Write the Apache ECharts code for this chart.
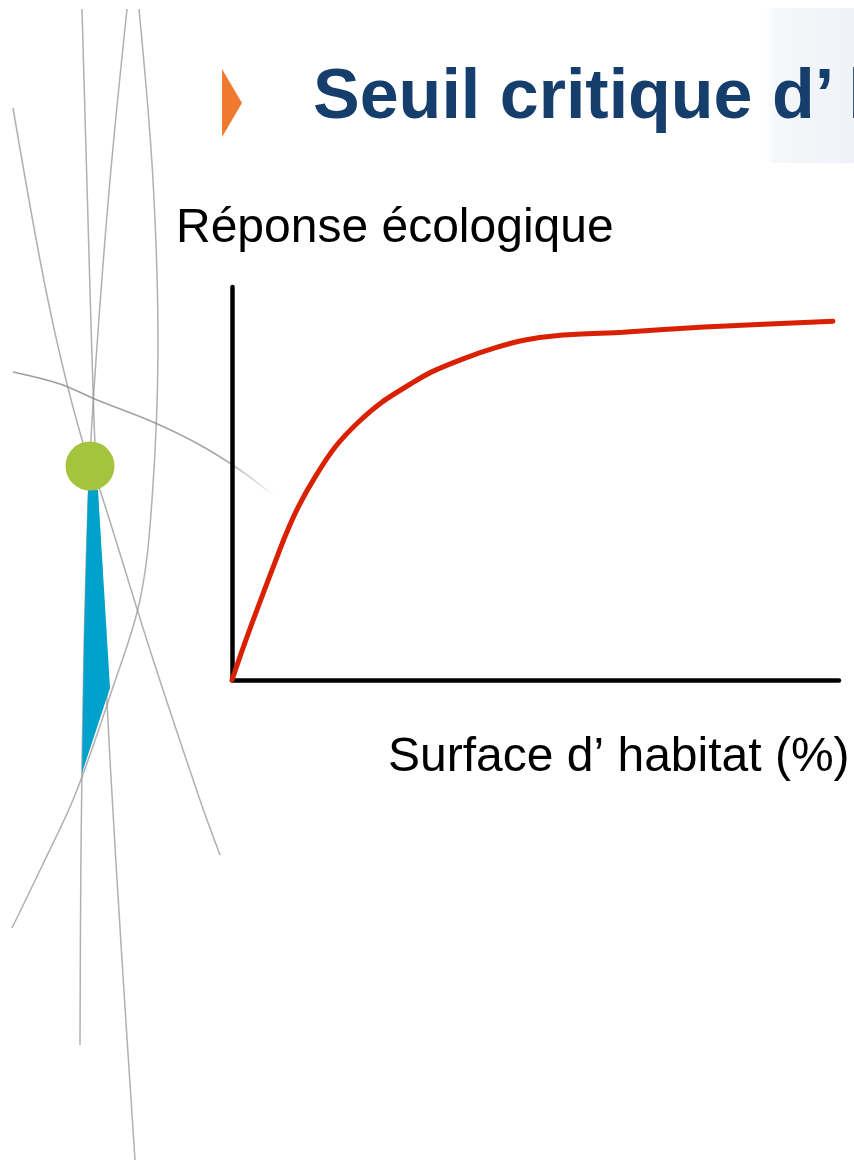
<!DOCTYPE html>
<html>
<head>
<meta charset="utf-8">
<style>
  html, body { margin: 0; padding: 0; background: #ffffff; }
  #chart { width: 854px; height: 1166px; }
</style>
<script src="https://cdn.jsdelivr.net/npm/echarts@6/dist/echarts.min.js"></script>
</head>
<body>
<div id="chart"></div>
<script>
// Habitat area (%) and ecological response (relative units) along the curve
const habitatArea = [0, 2.1, 4.3, 6.6, 8.7, 10.9, 13.7, 17.0, 20.8, 24.7, 29.7, 32.9, 38.4, 43.3, 48.3, 54.5, 64.4, 77.8, 99.0];
const ecoResponse = [0, 9.4, 18.6, 28.0, 36.4, 44.0, 51.7, 59.3, 65.6, 70.7, 75.6, 78.4, 81.9, 84.5, 86.5, 87.8, 88.5, 89.8, 91.3];

const titleText = 'Seuil critique d\u2019\u2009habitat';
const yAxisLabel = 'R\u00e9ponse \u00e9cologique';
const xAxisLabel = 'Surface d\u2019 habitat (%)';

const chart = echarts.init(document.getElementById('chart'), null, { renderer: 'canvas' });

const grey = 'rgba(150,150,155,0.75)';
function arc(points, extra) {
  return Object.assign({
    type: 'polyline',
    shape: { points: points, smooth: 0.35 },
    style: { stroke: grey, lineWidth: 1.5, fill: null },
    silent: true
  }, extra || {});
}

const decor = [
  // soft panel behind the end of the title
  {
    type: 'rect', z: -10,
    shape: { x: 765, y: 8, width: 95, height: 155 },
    style: {
      fill: new echarts.graphic.LinearGradient(0, 0, 1, 0, [
        { offset: 0, color: 'rgba(244,247,250,0)' },
        { offset: 0.12, color: '#f5f8fa' },
        { offset: 1, color: '#eef2f7' }
      ])
    },
    silent: true
  },
  // thin grey strands on the left margin
  arc([[82, 9], [88, 220], [94, 420], [100, 560], [110, 760], [122, 960], [135, 1160]]),
  arc([[127, 9], [110, 180], [96, 360], [89, 480], [84, 650], [81, 850], [80, 1045]]),
  arc([[139, 9], [153, 180], [158, 350], [152, 500], [140, 600], [112, 690], [75, 795], [42, 866], [12, 928]]),
  arc([[13, 108], [40, 260], [60, 355], [83, 443], [100, 490], [150, 650], [200, 800], [220, 855]]),
  arc([[13, 372], [60, 384], [97, 400], [153, 422], [200, 445], [240, 470], [273, 495]], {
    style: {
      stroke: new echarts.graphic.LinearGradient(0, 0, 1, 0, [
        { offset: 0, color: 'rgba(130,130,135,0.8)' },
        { offset: 0.8, color: 'rgba(130,130,135,0.7)' },
        { offset: 1, color: 'rgba(130,130,135,0)' }
      ]),
      lineWidth: 1.6, fill: null
    }
  }),
  // blue wedge
  {
    type: 'polygon',
    shape: { points: [[88, 490], [98, 490], [110, 688], [82, 773], [84, 640]] },
    style: { fill: '#00a2cb' },
    silent: true
  },
  // green dot
  {
    type: 'circle',
    shape: { cx: 90, cy: 466, r: 24.5 },
    style: { fill: '#a3c43c' },
    silent: true
  },
  // orange bullet before the title
  {
    type: 'polygon',
    shape: { points: [[222, 69], [242, 103], [222, 137]] },
    style: { fill: '#ef7a2f' },
    silent: true
  },
  // title
  {
    type: 'text', left: 313, top: 64,
    style: {
      text: titleText,
      fill: '#153e6d',
      font: 'bold 70px "Liberation Sans", Arial, sans-serif'
    },
    silent: true
  },
  // axis captions
  {
    type: 'text', left: 176, top: 205,
    style: {
      text: yAxisLabel,
      fill: '#000000',
      font: '48px "Liberation Sans", Arial, sans-serif'
    },
    silent: true
  },
  {
    type: 'text', left: 388, top: 734,
    style: {
      text: xAxisLabel,
      fill: '#000000',
      font: '48px "Liberation Sans", Arial, sans-serif'
    },
    silent: true
  }
];

const axisCommon = {
  type: 'value',
  min: 0,
  max: 100,
  axisLine: { show: true, onZero: false, lineStyle: { color: '#000000', width: 4.5 } },
  axisTick: { show: false },
  axisLabel: { show: false },
  splitLine: { show: false }
};

chart.setOption({
  backgroundColor: '#ffffff',
  animation: false,
  grid: { left: 232, right: 15, top: 287, bottom: 486, containLabel: false },
  xAxis: Object.assign({}, axisCommon),
  yAxis: Object.assign({}, axisCommon),
  graphic: decor,
  series: [{
    type: 'line',
    data: habitatArea.map((x, i) => [x, ecoResponse[i]]),
    smooth: 0.25,
    showSymbol: false,
    clip: false,
    lineStyle: { color: '#d92000', width: 5, cap: 'round' },
    z: 5
  }]
});
</script>
</body>
</html>
